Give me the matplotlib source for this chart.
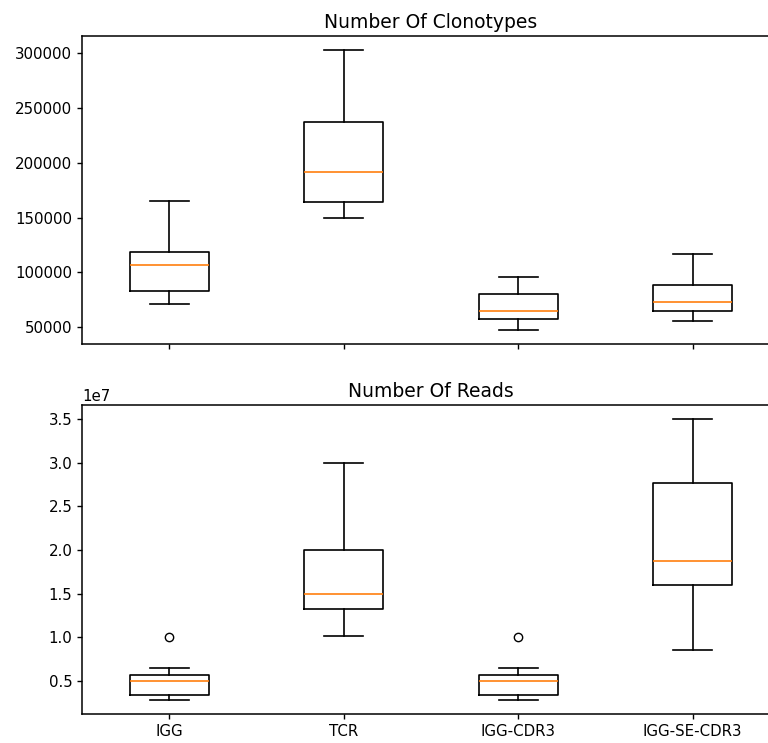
import matplotlib
matplotlib.use('Agg')
import matplotlib.pyplot as plt

# categories
labels = ['IGG', 'TCR', 'IGG-CDR3', 'IGG-SE-CDR3']

# Number Of Clonotypes : box statistics
clono_whislo = [71500, 150000, 47300, 55800]
clono_q1 = [82800, 164000, 57300, 64300]
clono_med = [107000, 192000, 64500, 73000]
clono_q3 = [118300, 237400, 80000, 88300]
clono_whishi = [165000, 303000, 95900, 116900]
clono_fliers = [[], [], [], []]

# Number Of Reads
reads_whislo = [0.283e7, 1.02e7, 0.283e7, 0.858e7]
reads_q1 = [0.34e7, 1.323e7, 0.34e7, 1.605e7]
reads_med = [0.5e7, 1.5e7, 0.5e7, 1.872e7]
reads_q3 = [0.572e7, 2.0e7, 0.572e7, 2.764e7]
reads_whishi = [0.645e7, 3.0e7, 0.645e7, 3.5e7]
reads_fliers = [[1.0e7], [], [1.0e7], []]


def make_stats(whislo, q1, med, q3, whishi, fliers):
  stats = []
  for i in range(len(labels)):
    stats.append({'whislo': whislo[i], 'q1': q1[i], 'med': med[i],
                  'q3': q3[i], 'whishi': whishi[i], 'fliers': fliers[i],
                  'label': labels[i]})
  return stats


plt.rcParams['xtick.labelsize'] = 10.8
plt.rcParams['ytick.labelsize'] = 10.8
plt.rcParams['axes.titlesize'] = 13.5
plt.rcParams['axes.linewidth'] = 1.1
plt.rcParams['xtick.major.width'] = 1.0
plt.rcParams['ytick.major.width'] = 1.0
plt.rcParams['boxplot.boxprops.linewidth'] = 1.2
plt.rcParams['boxplot.whiskerprops.linewidth'] = 1.2
plt.rcParams['boxplot.capprops.linewidth'] = 1.2
plt.rcParams['boxplot.medianprops.linewidth'] = 1.2

fig, (ax1, ax2) = plt.subplots(2, 1, sharex=True, figsize=(7.68, 7.43), dpi=100)
# axes run past the right edge of the figure, as in the cropped original
ax1.set_position([82 / 768, 1 - 344 / 743, 698 / 768, 308 / 743])
ax2.set_position([82 / 768, 1 - 714 / 743, 698 / 768, 309 / 743])

ax1.bxp(make_stats(clono_whislo, clono_q1, clono_med, clono_q3, clono_whishi, clono_fliers),
        widths=0.45)
ax1.set_title('Number Of Clonotypes')

ax2.bxp(make_stats(reads_whislo, reads_q1, reads_med, reads_q3, reads_whishi, reads_fliers),
        widths=0.45)
ax2.set_title('Number Of Reads')

ax2.set_xticks(range(1, len(labels) + 1))
ax2.set_xticklabels(labels)
ax1.tick_params(labelbottom=False)

fig.savefig('out.png', dpi=100)
